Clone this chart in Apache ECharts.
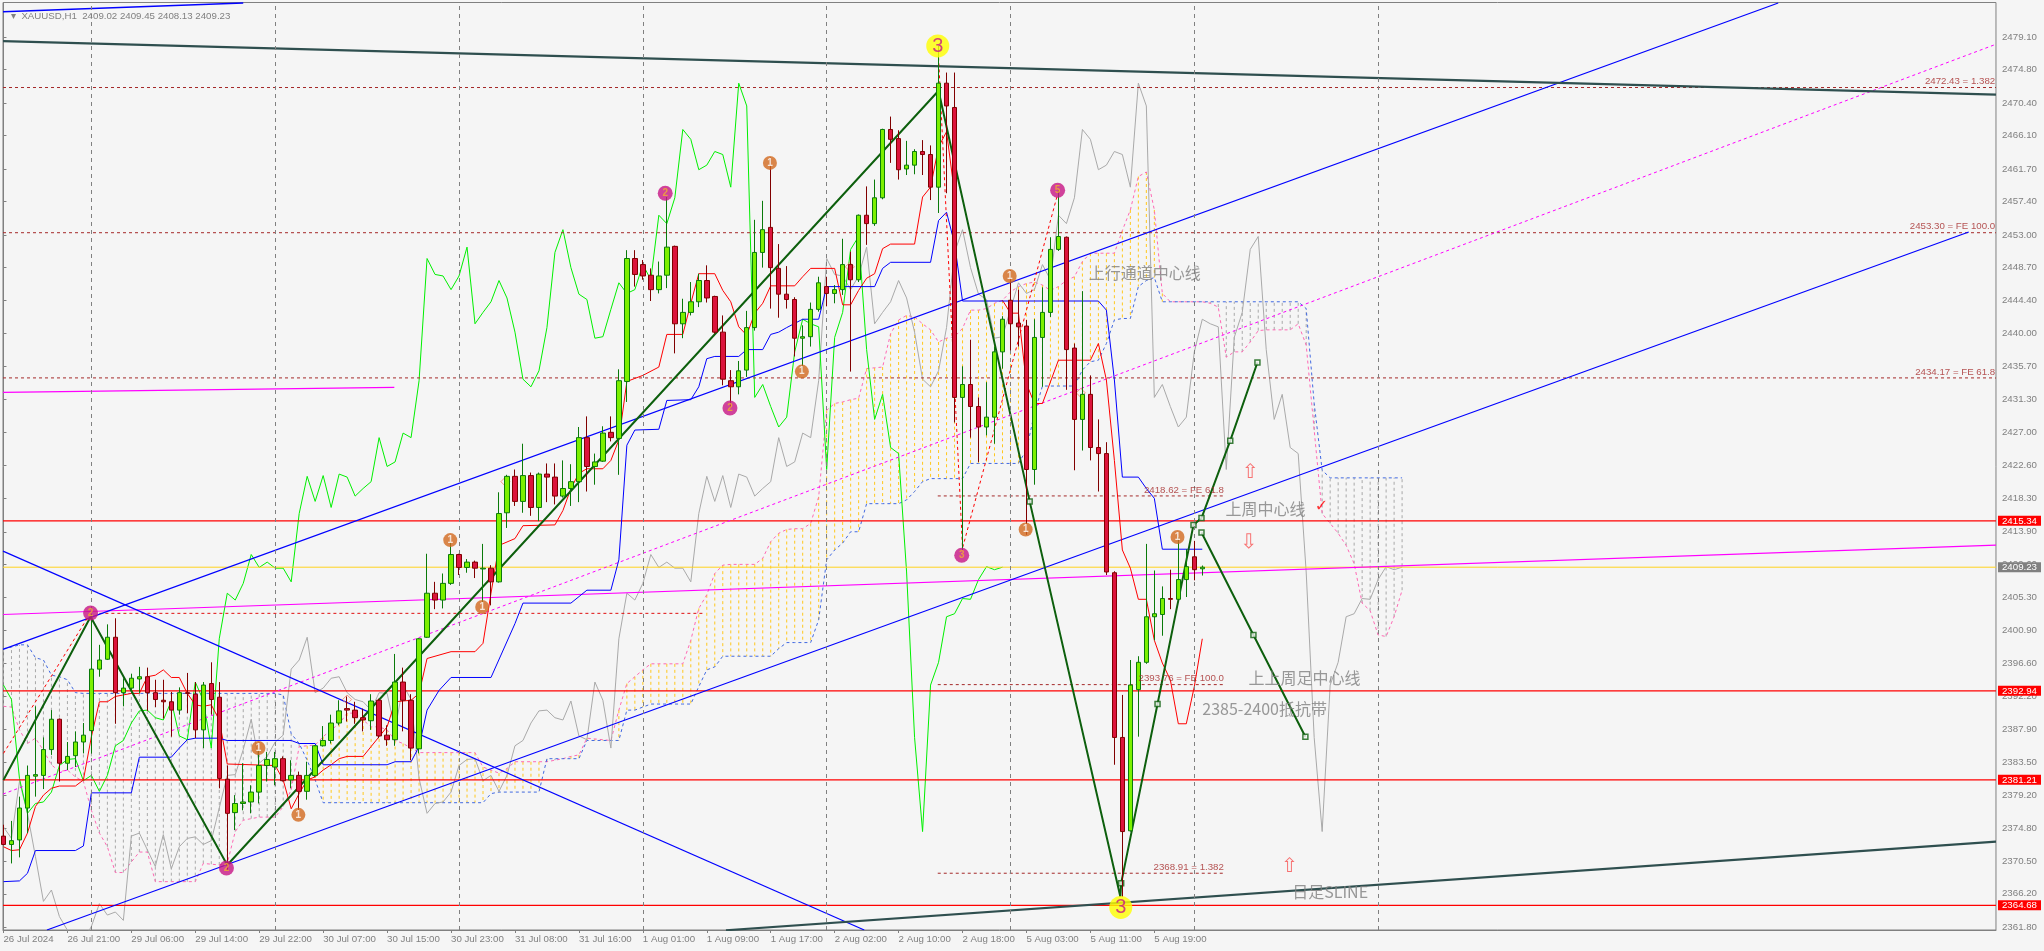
<!DOCTYPE html>
<html><head><meta charset="utf-8"><style>html,body{margin:0;padding:0;background:#f5f5f5}#c{width:2044px;height:951px}</style>
<script src="https://cdn.jsdelivr.net/npm/echarts@6/dist/echarts.min.js"></script></head><body><div id="c"></div>
<script>
const FONT='"Liberation Sans",sans-serif';
const FS=9.7;
const opens=[2373.8,2372.7,2373.3,2377.5,2381.7,2381.8,2385.2,2389.2,2383.4,2384.4,2386.2,2387.7,2395.8,2397.1,2400.0,2392.7,2393.3,2394.5,2394.8,2392.7,2391.7,2391.5,2390.4,2392.7,2392.5,2387.8,2393.9,2392.1,2381.3,2376.9,2378.1,2378.3,2379.6,2383.1,2382.9,2384.0,2381.2,2381.8,2379.7,2381.8,2385.7,2386.4,2388.7,2390.6,2390.4,2389.4,2389.0,2391.7,2387.1,2386.5,2394.1,2391.7,2385.3,2400.0,2405.8,2404.9,2407.1,2410.9,2409.2,2409.9,2409.0,2409.1,2407.3,2416.4,2421.2,2417.9,2421.3,2417.1,2421.5,2421.1,2418.6,2419.6,2420.5,2426.3,2422.5,2423.2,2427.0,2426.2,2433.7,2449.9,2449.1,2447.7,2445.8,2447.7,2451.5,2441.3,2442.8,2444.2,2447.0,2444.9,2440.2,2433.8,2433.0,2435.2,2440.8,2450.7,2454.0,2448.6,2445.2,2444.5,2439.4,2439.6,2443.2,2446.2,2445.3,2445.8,2449.1,2447.1,2455.6,2454.5,2457.9,2466.9,2465.7,2461.7,2462.2,2464.0,2463.6,2459.3,2473.0,2469.8,2431.6,2433.3,2430.4,2427.7,2429.0,2437.6,2444.4,2441.4,2441.0,2422.1,2439.5,2442.8,2451.1,2452.7,2438.1,2428.7,2432.0,2425.0,2424.2,2408.5,2386.8,2374.5,2393.1,2396.7,2402.7,2403.0,2405.1,2405.0,2407.6,2410.6,2409.02];
const closes=[2372.7,2373.2,2377.5,2381.8,2381.9,2385.2,2389.2,2383.4,2384.3,2386.2,2387.1,2395.8,2397.0,2400.0,2392.7,2393.3,2394.6,2394.8,2392.7,2391.8,2391.5,2390.4,2392.7,2392.6,2387.8,2393.7,2391.8,2381.4,2376.8,2378.1,2378.3,2379.6,2383.1,2383.9,2384.0,2381.1,2381.8,2379.7,2381.8,2385.7,2386.4,2388.7,2390.3,2390.4,2389.4,2389.1,2391.6,2387.0,2386.5,2394.1,2391.7,2385.4,2399.8,2405.8,2404.9,2407.1,2410.9,2409.2,2409.9,2409.1,2409.1,2407.3,2416.3,2421.2,2417.9,2421.3,2417.1,2421.5,2421.1,2418.6,2419.6,2420.5,2426.3,2422.5,2423.1,2426.9,2426.3,2433.8,2449.9,2447.8,2447.6,2445.8,2447.6,2451.4,2441.3,2442.8,2444.2,2447.0,2444.7,2440.2,2434.0,2433.0,2435.1,2440.8,2450.7,2453.7,2448.7,2445.2,2444.5,2439.4,2439.6,2443.2,2446.7,2445.3,2445.8,2449.1,2447.1,2455.6,2454.5,2457.9,2466.9,2465.6,2461.6,2462.2,2464.0,2463.6,2459.3,2473.0,2470.0,2431.6,2433.3,2430.4,2427.7,2429.0,2437.6,2441.9,2441.3,2440.9,2422.1,2439.5,2442.8,2451.1,2452.8,2437.9,2428.7,2432.0,2425.0,2424.2,2408.6,2386.8,2374.4,2393.7,2396.7,2402.7,2403.1,2405.1,2405.0,2407.6,2409.3,2408.9,2409.23];
const lows=[2372.6,2370.2,2371.0,2374.2,2379.0,2380.0,2384.5,2381.0,2382.5,2382.9,2384.7,2384.7,2394.8,2397.0,2388.6,2390.9,2392.6,2392.6,2390.3,2390.8,2389.3,2386.9,2389.8,2390.0,2386.7,2385.4,2389.8,2380.1,2369.3,2374.6,2377.2,2376.8,2378.1,2381.0,2380.5,2381.0,2380.1,2376.8,2378.6,2381.6,2385.6,2386.0,2388.4,2388.9,2388.6,2387.6,2387.8,2386.7,2385.7,2385.7,2387.6,2383.8,2384.7,2399.9,2403.7,2403.8,2406.9,2408.2,2408.5,2407.8,2404.5,2404.2,2407.2,2414.4,2417.3,2416.4,2416.0,2415.3,2417.8,2417.5,2418.4,2417.3,2417.8,2419.2,2420.1,2423.1,2425.8,2421.4,2431.0,2446.2,2447.1,2444.3,2445.3,2446.0,2437.4,2439.4,2442.4,2443.5,2444.1,2440.0,2433.2,2430.2,2432.0,2434.3,2440.4,2448.7,2443.3,2442.1,2443.3,2437.0,2435.0,2438.3,2442.9,2443.6,2444.0,2445.1,2435.0,2446.8,2451.7,2454.2,2457.7,2462.5,2460.3,2460.9,2461.0,2460.9,2457.6,2455.9,2458.5,2428.3,2411.5,2426.3,2423.1,2426.6,2425.5,2435.4,2437.8,2438.3,2413.5,2420.1,2433.0,2442.2,2450.9,2432.6,2422.0,2424.6,2423.3,2419.2,2408.2,2383.2,2365.8,2374.4,2386.9,2396.5,2399.6,2400.2,2403.7,2404.9,2405.3,2407.5,2408.13];
const highs=[2375.3,2375.8,2379.0,2383.1,2390.9,2386.8,2390.4,2389.3,2386.2,2387.6,2388.7,2403.1,2399.0,2401.7,2402.5,2394.6,2395.2,2396.1,2396.0,2394.4,2394.4,2392.8,2393.4,2395.3,2394.1,2394.1,2396.7,2394.1,2383.1,2379.2,2383.4,2380.5,2385.4,2384.9,2384.9,2384.3,2383.8,2382.3,2383.6,2385.8,2388.3,2389.8,2391.7,2392.2,2391.5,2390.6,2392.5,2391.9,2388.4,2397.8,2396.0,2392.5,2399.9,2411.0,2407.3,2408.4,2413.2,2411.0,2410.3,2410.1,2412.3,2409.5,2419.1,2421.4,2422.1,2425.5,2421.7,2421.7,2422.9,2422.9,2423.3,2422.8,2427.7,2429.1,2424.2,2427.8,2429.1,2435.3,2451.0,2451.0,2449.7,2448.6,2449.5,2458.0,2451.6,2444.6,2446.8,2447.9,2449.0,2445.0,2442.4,2435.2,2436.4,2443.0,2455.0,2457.5,2463.2,2451.8,2448.9,2444.8,2441.1,2444.1,2447.5,2447.5,2446.4,2452.5,2450.8,2455.7,2459.4,2460.3,2467.0,2468.6,2466.8,2465.4,2464.3,2465.5,2464.8,2477.9,2474.4,2474.4,2435.7,2439.2,2431.6,2433.6,2438.3,2442.3,2448.3,2445.8,2441.8,2441.9,2446.1,2452.7,2458.9,2452.8,2438.7,2445.6,2434.5,2428.7,2425.7,2408.7,2392.4,2397.0,2397.5,2412.3,2408.8,2406.7,2408.9,2413.2,2411.6,2412.7,2409.45];

const laggingGreen=[2393.7,2391.8,2381.4,2376.8,2378.1,2378.3,2379.6,2383.1,2383.9,2384.0,2381.1,2381.8,2379.7,2381.8,2385.7,2386.4,2388.7,2390.3,2390.4,2389.4,2389.1,2391.6,2387.0,2386.5,2394.1,2391.7,2385.4,2399.8,2405.8,2404.9,2407.1,2410.9,2409.2,2409.9,2409.1,2409.1,2407.3,2416.3,2421.2,2417.9,2421.3,2417.1,2421.5,2421.1,2418.6,2419.6,2420.5,2426.3,2422.5,2423.1,2426.9,2426.3,2433.8,2449.9,2447.8,2447.6,2445.8,2447.6,2451.4,2441.3,2442.8,2444.2,2447.0,2444.7,2440.2,2434.0,2433.0,2435.1,2440.8,2450.7,2453.7,2448.7,2445.2,2444.5,2439.4,2439.6,2443.2,2446.7,2445.3,2445.8,2449.1,2447.1,2455.6,2454.5,2457.9,2466.9,2465.6,2461.6,2462.2,2464.0,2463.6,2459.3,2473.0,2470.0,2431.6,2433.3,2430.4,2427.7,2429.0,2437.6,2441.9,2441.3,2440.9,2422.1,2439.5,2442.8,2451.1,2452.8,2437.9,2428.7,2432.0,2425.0,2424.2,2408.6,2386.8,2374.4,2393.7,2396.7,2402.7,2403.1,2405.1,2405.0,2407.6,2409.3,2408.9,2409.23];
const laggingGray=[2375.0,2373.5,2381.0,2376.8,2371.1,2365.2,2366.7,2363.2,2361.4,2360.3,2360.0,2361.9,2364.9,2363.4,2363.8,2362.7,2373.8,2374.2,2372.0,2369.8,2374.0,2369.5,2372.4,2373.5,2373.7,2372.7,2373.2,2377.5,2381.8,2381.9,2385.2,2389.2,2383.4,2384.3,2386.2,2387.1,2395.8,2397.0,2400.0,2392.7,2393.3,2394.6,2394.8,2392.7,2391.8,2391.5,2390.4,2392.7,2392.6,2387.8,2393.7,2391.8,2381.4,2376.8,2378.1,2378.3,2379.6,2383.1,2383.9,2384.0,2381.1,2381.8,2379.7,2381.8,2385.7,2386.4,2388.7,2390.3,2390.4,2389.4,2389.1,2391.6,2387.0,2386.5,2394.1,2391.7,2385.4,2399.8,2405.8,2404.9,2407.1,2410.9,2409.2,2409.9,2409.1,2409.1,2407.3,2416.3,2421.2,2417.9,2421.3,2417.1,2421.5,2421.1,2418.6,2419.6,2420.5,2426.3,2422.5,2423.1,2426.9,2426.3,2433.8,2449.9,2447.8,2447.6,2445.8,2447.6,2451.4,2441.3,2442.8,2444.2,2447.0,2444.7,2440.2,2434.0,2433.0,2435.1,2440.8,2450.7,2453.7,2448.7,2445.2,2444.5,2439.4,2439.6,2443.2,2446.7,2445.3,2445.8,2449.1,2447.1,2455.6,2454.5,2457.9,2466.9,2465.6,2461.6,2462.2,2464.0,2463.6,2459.3,2473.0,2470.0,2431.6,2433.3,2430.4,2427.7,2429.0,2437.6,2441.9,2441.3,2440.9,2422.1,2439.5,2442.8,2451.1,2452.8,2437.9,2428.7,2432.0,2425.0,2424.2,2408.6,2386.8,2374.4,2393.7,2396.7,2402.7,2403.1,2405.1,2405.0,2407.6,2409.3,2408.9,2409.23];

const spanA=[2390.9,2390.8,2387.8,2386.0,2386.7,2385.1,2383.2,2382.3,2382.5,2381.6,2381.0,2377.2,2374.2,2372.4,2369.0,2369.0,2370.4,2371.7,2371.7,2367.8,2367.8,2367.8,2367.8,2367.8,2367.8,2370.2,2370.1,2370.0,2370.2,2374.4,2375.9,2376.1,2376.3,2376.3,2376.3,2377.7,2379.9,2385.6,2385.7,2385.8,2386.9,2387.8,2388.6,2390.0,2390.0,2389.1,2388.2,2388.2,2387.8,2386.4,2386.0,2385.4,2384.8,2384.8,2384.8,2384.8,2384.8,2384.8,2384.8,2384.8,2382.9,2382.5,2382.1,2382.7,2383.6,2383.6,2383.6,2383.6,2383.6,2383.8,2384.0,2384.3,2384.5,2386.7,2386.6,2386.5,2386.4,2390.4,2393.9,2394.8,2395.7,2396.5,2396.5,2396.5,2396.5,2396.5,2399.6,2403.8,2405.6,2408.4,2409.5,2409.6,2409.6,2409.6,2409.6,2410.4,2412.6,2413.7,2414.2,2414.3,2414.3,2415.0,2418.5,2429.9,2430.8,2431.0,2431.3,2431.5,2435.4,2435.5,2435.6,2440.0,2441.8,2442.4,2442.2,2441.3,2440.5,2438.9,2439.4,2439.6,2440.7,2443.1,2443.1,2443.3,2444.0,2444.4,2445.5,2446.2,2446.6,2446.8,2446.4,2445.7,2446.2,2447.0,2447.5,2449.5,2450.6,2450.6,2450.6,2450.6,2453.6,2456.3,2460.7,2461.3,2456.3,2445.3,2444.2,2444.2,2444.2,2444.2,2444.2,2444.0,2443.5,2436.9,2437.6,2437.6,2438.9,2440.4,2440.5,2440.5,2440.5,2440.5,2441.3,2438.5,2427.3,2416.3,2415.0,2413.7,2412.1,2409.7,2404.5,2403.5,2400.3,2400.1,2402.7,2406.2];
const spanB=[2398.5,2398.7,2399.0,2399.0,2397.3,2397.0,2395.0,2394.8,2394.4,2392.7,2392.6,2392.6,2392.6,2392.6,2392.6,2392.6,2392.6,2392.6,2392.6,2392.6,2392.6,2392.6,2392.6,2392.6,2392.6,2392.6,2392.6,2392.6,2392.6,2392.6,2392.6,2392.6,2392.6,2392.6,2392.6,2392.4,2387.3,2386.0,2383.8,2381.2,2378.2,2378.2,2378.2,2378.2,2378.2,2378.2,2378.2,2378.2,2378.2,2378.2,2378.2,2378.2,2378.2,2378.2,2378.2,2378.2,2378.2,2378.2,2378.2,2378.2,2378.2,2379.4,2379.6,2379.6,2379.6,2379.6,2379.6,2379.6,2384.0,2384.0,2384.0,2384.0,2384.0,2386.4,2386.4,2386.4,2386.4,2386.4,2390.4,2390.4,2390.8,2391.2,2391.2,2391.2,2391.2,2391.2,2391.2,2393.5,2395.7,2396.1,2397.5,2397.5,2397.5,2397.5,2397.5,2397.5,2397.5,2398.5,2399.3,2399.3,2399.3,2399.3,2402.3,2410.2,2411.5,2412.4,2413.9,2413.9,2417.6,2417.6,2417.6,2417.6,2417.6,2418.1,2419.2,2420.5,2420.9,2420.9,2420.9,2420.9,2420.9,2422.9,2422.9,2422.9,2422.9,2422.9,2422.9,2422.9,2424.7,2429.5,2433.1,2433.1,2433.1,2433.1,2433.1,2435.2,2436.3,2436.5,2438.7,2441.8,2442.0,2442.0,2446.2,2447.0,2447.4,2444.2,2444.2,2444.2,2444.2,2444.2,2444.2,2444.2,2444.2,2444.2,2444.2,2444.2,2444.2,2444.2,2444.2,2444.2,2444.2,2444.2,2444.2,2443.3,2430.8,2422.0,2421.0,2421.0,2421.0,2421.0,2421.0,2421.0,2421.0,2421.0,2421.0,2421.0];

const tenkanA=[[0,2372.4],[1,2371.9],[2,2372.0],[3,2374.2],[4,2377.7],[5,2379.2],[6,2380.1],[7,2380.4],[9,2380.4],[10,2381.2],[11,2386.9],[12,2391.5],[13,2391.5],[14,2392.2],[15,2392.4],[16,2392.6],[17,2392.6],[18,2394.8],[19,2395.0],[20,2395.7],[21,2394.7],[22,2394.7],[23,2392.6],[24,2391.1],[25,2390.9],[26,2391.1],[27,2389.1],[28,2383.3],[34,2383.1],[35,2381.2],[36,2377.4],[37,2379.4],[38,2381.2],[39,2381.6],[40,2382.5],[41,2383.2],[42,2384.0],[43,2384.3],[45,2384.3],[46,2385.6],[47,2386.9],[48,2388.2],[49,2391.5],[51,2391.7],[52,2392.6],[53,2397.2],[56,2398.1],[59,2398.1],[60,2399.2],[61,2405.8],[62,2412.1],[64,2413.0],[65,2414.7],[69,2414.8],[70,2416.7],[71,2419.6],[72,2421.6],[73,2422.2],[75,2422.2],[76,2423.3],[77,2426.0],[78,2433.7],[79,2434.1],[80,2434.5],[82,2435.6],[83,2439.9],[85,2439.9],[86,2444.0],[87,2447.9],[89,2447.9],[90,2445.7],[91,2444.2],[92,2440.9],[93,2439.8],[94,2442.7],[95,2444.0],[96,2446.3],[99,2446.3],[100,2447.5],[101,2448.6],[104,2448.6],[105,2443.8],[106,2443.8],[107,2445.7],[108,2447.3],[109,2447.9],[110,2451.2],[111,2451.8],[114,2451.8],[115,2458.0],[116,2459.3],[117,2464.6],[118,2466.6],[119,2458.5]];
const tenkanB=[[125,2444.4],[126,2442.7],[127,2442.7],[128,2433.4],[129,2430.8],[130,2430.8],[132,2436.5],[136,2436.5],[137,2438.7],[138,2433.9],[139,2423.3],[140,2411.5],[141,2409.1],[142,2405.0],[143,2405.0],[144,2399.6],[145,2396.6],[146,2394.4],[147,2388.6],[148,2388.6],[149,2393.5],[150,2399.8]];
const kijun=[[0,2367.8],[2,2367.9],[3,2368.9],[4,2371.9],[9,2371.9],[10,2372.5],[11,2379.5],[16,2379.5],[17,2384.2],[21,2384.2],[22,2385.4],[23,2386.5],[24,2386.7],[27,2386.7],[28,2386.4],[36,2386.4],[37,2386.0],[39,2386.0],[40,2383.2],[48,2383.2],[49,2383.6],[51,2383.6],[52,2385.6],[53,2390.4],[54.5,2393.0],[56,2394.7],[61,2394.7],[64,2401.8],[65,2404.5],[71,2404.5],[73,2406.2],[76,2406.2],[77,2410.2],[78,2425.3],[79,2427.3],[82,2427.4],[83,2431.2],[86,2431.3],[87,2433.0],[88,2436.7],[89,2437.0],[92,2437.0],[93,2437.9],[95,2437.9],[96,2439.9],[97,2440.2],[98,2440.8],[100,2441.9],[102,2441.9],[103,2446.2],[109,2446.2],[110,2448.6],[111,2449.4],[116,2449.4],[117,2454.9],[118,2456.0],[119,2451.9],[120,2444.3],[137,2444.3],[138,2443.1],[139,2433.9],[140,2421.1],[142,2421.1],[143,2419.6],[144,2418.3],[145,2411.6],[150,2411.6]];

const xLeft=-0.06, xRight=249.31, yMin=2361.43, yMax=2483.63;
const timeTicks=[0,8,16,24,32,40,48,56,64,72,80,88,96,104,112,120,128,136,144];
const timeLabels=['26 Jul 2024','26 Jul 21:00','29 Jul 06:00','29 Jul 14:00','29 Jul 22:00','30 Jul 07:00','30 Jul 15:00','30 Jul 23:00','31 Jul 08:00','31 Jul 16:00','1 Aug 01:00','1 Aug 09:00','1 Aug 17:00','2 Aug 02:00','2 Aug 10:00','2 Aug 18:00','5 Aug 03:00','5 Aug 11:00','5 Aug 19:00'];
const priceTicks=[2479.10,2474.80,2470.40,2466.10,2461.70,2457.40,2453.00,2448.70,2444.40,2440.00,2435.70,2431.30,2427.00,2422.60,2418.30,2413.90,2409.60,2405.30,2400.90,2396.60,2392.20,2387.90,2383.50,2379.20,2374.80,2370.50,2366.20,2361.80];
const redLevels=[2415.34,2392.94,2381.21,2364.68];
const lastPrice=2409.23;
const gridBars=[11,34,57,80,103,126,149,172];
const fullDashLevels=[2472.43,2453.30,2434.17];
const fullDashLabels=['2472.43 = 1.382','2453.30 = FE 100.0','2434.17 = FE 61.8'];
const shortDashLevels=[2418.62,2393.76,2368.91];
const shortDashLabels=['2418.62 = FE 61.8','2393.76 = FE 100.0','2368.91 = 1.382'];
const shortDashRange=[116.9,152.7];
const supportDash=[[12,2403.15],[87.7,2403.15]];
const slateTop=[[xLeft,2478.53],[xRight,2471.5]];
const slateBottom=[[90.4,2361.4],[xRight,2373.07]];
const magentaUpper=[[xLeft,2432.26],[48.9,2432.92]];
const magentaLower=[[xLeft,2403.0],[xRight,2412.14]];
const channelMid=[[xLeft,2379.34],[xRight,2478.13]];
const channelUp=[[xLeft,2398.4],[222.06,2483.57]];
const channelLow=[[5.44,2361.43],[245.9,2453.4]];
const descLine=[[xLeft,2411.35],[107.7,2361.43]];
const topShort=[[xLeft,2482.4],[30,2483.57]];
const waveMain=[[0,2381.2],[10.9,2402.7],[28,2370.0],[117,2472.0],[128.4,2417.9],[139.75,2365.8],[139.85,2367.6],[144.4,2391.2],[148.9,2414.8],[149.9,2415.7],[153.5,2425.9],[156.9,2436.2]];
const waveDown=[[149.9,2413.8],[156.4,2400.3],[162.9,2386.9]];
const waveMarks=[[128.4,2417.9],[139.85,2367.6],[144.4,2391.2],[148.9,2414.8],[149.9,2415.7],[153.5,2425.9],[156.9,2436.2],[149.9,2413.8],[156.4,2400.3],[162.9,2386.9]];
const fractalA=[[0,2384.7],[10.9,2403.2]];
const fractalB=[[117,2476.4],[120,2411.75],[131.8,2458.0]];
const magentaBadges=[[10.9,2403.2,'2'],[27.9,2369.6,'2'],[82.8,2458.5,'2'],[90.9,2430.2,'2'],[119.9,2410.8,'3'],[131.9,2458.9,'5']];
const orangeBadges=[[31.9,2385.4,'1'],[36.9,2376.6,'1'],[55.9,2412.8,'1'],[59.9,2404.0,'1'],[99.9,2435.0,'1'],[95.9,2462.5,'1'],[125.9,2447.6,'1'],[127.9,2414.2,'1'],[146.9,2413.2,'1']];
const yellowBadges=[[116.9,2477.9,'3'],[139.8,2364.4,'3']];
const hollowArrows=[[156,2421.7,'⇧'],[155.8,2412.5,'⇩'],[160.9,2369.8,'⇧']];
const checkMark=[[164.9,2417.2,'✓']];
const smallArrows=[[43,2391.8],[62.8,2420.5],[105.9,2448.8],[134.8,2432.2]];
const notes=[[142.8,2448.0,'上行通道中心线'],[157.9,2416.9,'上周中心线'],[162.8,2394.6,'上上周足中心线'],[157.8,2390.5,'2385-2400抵抗带'],[166,2366.4,'日足SLINE']];

const hatch=spanA.map((a,i)=>[i,a,spanB[i]]);
const candles=opens.map((o,i)=>[i,o,closes[i],lows[i],highs[i]]);
const ln=(data,color,width,type,z)=>({type:'line',data,symbol:'none',silent:true,clip:true,z:z||2,animation:false,lineStyle:{color,width,type:type||'solid'}});
const hline=(p,color,width,type,z)=>ln([[xLeft,p],[xRight,p]],color,width,type,z);
const textPts=(data,label,z)=>({type:'scatter',data,symbolSize:0,silent:true,z:z||7,animation:false,clip:false,label:Object.assign({show:true,formatter:p=>p.data[2]},label)});
const DASH=[3,3];

const series=[
 {type:'custom',z:1,silent:true,clip:true,animation:false,data:hatch,encode:{x:0,y:[1,2]},
  renderItem:(params,api)=>{const i=api.value(0),a=api.value(1),b=api.value(2);const p1=api.coord([i,a]),p2=api.coord([i,b]);
   return {type:'line',shape:{x1:p1[0],y1:p1[1],x2:p2[0],y2:p2[1]},style:{stroke:a>b?'#ffc81e':'#a8a8a8',lineWidth:1,lineDash:[3,3]}};}},
 ln(spanA.map((v,i)=>[i,v]),'#ff69b4',1,DASH),
 ln(spanB.map((v,i)=>[i,v]),'#4169e1',1,DASH),
 ln(laggingGray.map((v,i)=>[i,v]),'#a9a9a9',1),
 ln(laggingGreen.map((v,i)=>[i,v]),'#00f000',1),
 Object.assign(hline(lastPrice,'#ffd21e',1),{markLine:{silent:true,symbol:['none','none'],animation:false,label:{show:false},lineStyle:{color:'#808080',type:[4,4],width:1},data:gridBars.map(b=>({xAxis:b}))}}),
 ...redLevels.map(p=>hline(p,'#ff0000',1.2)),
 ...fullDashLevels.map(p=>hline(p,'#a52a2a',1,DASH)),
 ...shortDashLevels.map(p=>ln([[shortDashRange[0],p],[shortDashRange[1],p]],'#a52a2a',1,DASH)),
 ln(supportDash,'#e01010',1,DASH),
 ln(magentaUpper,'#ff00ff',1.2),
 ln(magentaLower,'#ff00ff',1.2),
 ln(channelMid,'#ff00ff',1,[3,3]),
 ln(channelUp,'#0000ff',1.2),
 ln(channelLow,'#0000ff',1.2),
 ln(descLine,'#0000ff',1.2),
 ln(topShort,'#0000ff',1.5),
 ln(slateTop,'#2f4f4f',2.2),
 ln(slateBottom,'#2f4f4f',2.2),
 ln(tenkanA,'#ff0000',1),
 ln(tenkanB,'#ff0000',1),
 ln(kijun,'#0000ff',1),
 ln(fractalA,'#ff0000',1,DASH),
 ln(fractalB,'#ff0000',1,DASH),
 ln(waveMain,'#0d5f0d',2),
 ln(waveDown,'#0d5f0d',2),
 {type:'scatter',data:waveMarks,symbol:'rect',symbolSize:5,z:3,silent:true,animation:false,itemStyle:{color:'#f5f5f5',borderColor:'#0d5f0d',borderWidth:1.5}},
 {type:'candlestick',data:candles,encode:{x:0,y:[1,2,3,4]},barWidth:5,z:5,silent:true,animation:false,clip:true,
  itemStyle:{color:'#7cf000',color0:'#dc143c',borderColor:'#0a7a0a',borderColor0:'#800000',borderWidth:1}},
 {type:'scatter',data:magentaBadges,symbolSize:15,z:6,silent:true,animation:false,itemStyle:{color:'#c71585'},label:{show:true,position:'inside',formatter:p=>p.data[2],color:'#f0b030',fontSize:10,fontFamily:FONT,fontWeight:'bold'}},
 {type:'scatter',data:orangeBadges,symbolSize:14,z:6,silent:true,animation:false,itemStyle:{color:'#d2691e'},label:{show:true,position:'inside',formatter:p=>p.data[2],color:'#fff',fontSize:10,fontFamily:FONT,fontWeight:'bold'}},
 {type:'scatter',data:yellowBadges,symbolSize:23,z:6,silent:true,animation:false,itemStyle:{color:'#ffff00'},label:{show:true,position:'inside',formatter:p=>p.data[2],color:'#c71585',fontSize:20,fontFamily:FONT}},
 textPts(hollowArrows,{position:'inside',color:'#f85050',fontSize:20,fontFamily:'"DejaVu Sans"'}),
 textPts(checkMark,{position:'inside',color:'#ff0000',fontSize:16,fontFamily:'"DejaVu Sans"',fontWeight:'bold'}),
 {type:'scatter',data:smallArrows,symbol:'diamond',symbolSize:9,z:4,silent:true,animation:false,itemStyle:{color:'rgba(0,0,0,0)',borderColor:'#f88060',borderWidth:1}},
 textPts(notes,{position:'inside',color:'#808080',fontSize:16,fontFamily:'"Noto Sans CJK SC",sans-serif'}),
 textPts(fullDashLevels.map((p,i)=>[xRight-0.1,p,fullDashLabels[i]]),{position:'left',distance:0,offset:[0,-6],color:'#a52a2a',fontSize:FS,fontFamily:FONT}),
 textPts(shortDashLevels.map((p,i)=>[shortDashRange[1],p,shortDashLabels[i]]),{position:'left',distance:0,offset:[0,-6],color:'#a52a2a',fontSize:FS,fontFamily:FONT}),
];

const axisValues=[...priceTicks,lastPrice,...redLevels];
const chart=echarts.init(document.getElementById('c'),null,{renderer:'canvas'});
chart.setOption({
 animation:false,backgroundColor:'#f5f5f5',
 title:{text:'▾  XAUUSD,H1  2409.02 2409.45 2408.13 2409.23',left:6,top:6,textStyle:{color:'#808080',fontSize:FS,fontWeight:'normal',fontFamily:FONT}},
 grid:{left:3,right:46,top:2.5,bottom:21,show:true,backgroundColor:'#f5f5f5',borderColor:'#808080',borderWidth:1},
 xAxis:{type:'value',min:xLeft,max:xRight,splitLine:{show:false},axisLine:{show:true,lineStyle:{color:'#808080'}},
  axisTick:{show:true,customValues:timeTicks,length:3,lineStyle:{color:'#808080'}},
  axisLabel:{customValues:timeTicks,align:'left',margin:4,color:'#808080',fontSize:FS,fontFamily:FONT,formatter:v=>timeLabels[timeTicks.indexOf(v)]||''}},
 yAxis:{type:'value',position:'right',min:yMin,max:yMax,splitLine:{show:false},axisLine:{show:true,lineStyle:{color:'#808080'}},
  axisTick:{show:true,customValues:priceTicks,length:3,lineStyle:{color:'#808080'}},
  axisLabel:{customValues:axisValues,margin:2,fontSize:FS,fontFamily:FONT,color:'#808080',
   formatter:v=>{const s=v.toFixed(2);if(redLevels.includes(v))return '{r|'+s+'}';if(v===lastPrice)return '{g|'+s+'}';return '{n|'+s+'}';},
   rich:{n:{color:'#808080',padding:[0,4],fontSize:FS,fontFamily:FONT},
    r:{color:'#fff',backgroundColor:'#ff0000',padding:[0,4],fontSize:FS,fontFamily:FONT},
    g:{color:'#fff',backgroundColor:'#808080',padding:[0,4],fontSize:FS,fontFamily:FONT}}}},
 series
});
</script></body></html>
